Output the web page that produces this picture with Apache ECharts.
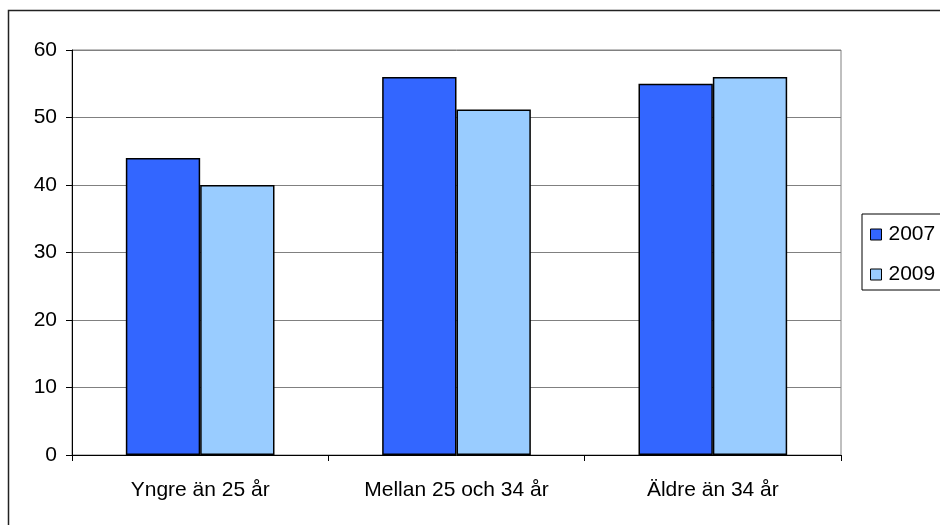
<!DOCTYPE html>
<html>
<head>
<meta charset="utf-8">
<script src="https://cdn.jsdelivr.net/npm/echarts@6/dist/echarts.min.js"></script>
<style>
html,body{margin:0;padding:0;background:#fff;}
#chart{width:940px;height:525px;}
</style>
</head>
<body>
<div id="chart"></div>
<script>
var categories = ['Yngre än 25 år', 'Mellan 25 och 34 år', 'Äldre än 34 år'];
var seriesNames = ['2007', '2009'];
var values2007 = [44, 56, 55];
var values2009 = [40, 51.2, 56];
var seriesColors = ['#3366FF', '#99CCFF'];

var chart = echarts.init(document.getElementById('chart'), null, {renderer: 'canvas'});
var font = '"Liberation Sans", Arial, sans-serif';
var option = {
  animation: false,
  backgroundColor: '#ffffff',
  graphic: [{
    type: 'rect',
    shape: {x: 8.5, y: 10.5, width: 1000, height: 1000},
    style: {fill: 'none', stroke: '#222', lineWidth: 1.5},
    silent: true,
    z: -1
  }],
  grid: {
    left: 72, right: 99, top: 50, bottom: 70,
    show: true, borderColor: '#808080', borderWidth: 1
  },
  legend: {
    orient: 'vertical',
    left: 862, top: 214,
    padding: [10, 20, 5, 8],
    itemGap: 19,
    itemWidth: 11, itemHeight: 11,
    borderColor: '#000', borderWidth: 1,
    icon: 'rect',
    itemStyle: {borderColor: '#000', borderWidth: 1},
    textStyle: {fontFamily: font, fontSize: 21, color: '#000', padding: [0,0,0,2]},
    data: seriesNames
  },
  xAxis: {
    type: 'category',
    data: categories,
    axisLine: {lineStyle: {color: '#000', width: 1}},
    axisTick: {show: true, alignWithLabel: false, length: 6, lineStyle: {color: '#000'}},
    axisLabel: {fontFamily: font, fontSize: 21, color: '#000', margin: 25}
  },
  yAxis: {
    type: 'value',
    min: 0, max: 60, interval: 10,
    axisLine: {show: true, lineStyle: {color: '#000', width: 1}},
    axisTick: {show: true, length: 6, lineStyle: {color: '#000'}},
    axisLabel: {fontFamily: font, fontSize: 21, color: '#000', margin: 15},
    splitLine: {show: true, lineStyle: {color: '#808080', width: 1}}
  },
  series: [
    {
      name: seriesNames[0], type: 'bar', data: values2007,
      barGap: '0%', barCategoryGap: '42%',
      itemStyle: {color: seriesColors[0], borderColor: '#000', borderWidth: 1.5}
    },
    {
      name: seriesNames[1], type: 'bar', data: values2009,
      barGap: '0%', barCategoryGap: '42%',
      itemStyle: {color: seriesColors[1], borderColor: '#000', borderWidth: 1.5}
    }
  ]
};
chart.setOption(option);
</script>
</body>
</html>
